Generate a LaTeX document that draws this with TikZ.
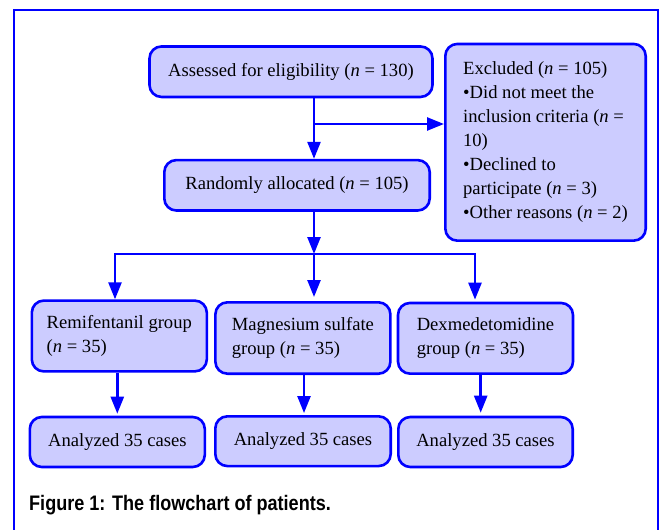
\documentclass[tikz,border=0pt]{standalone}
\usepackage{fontspec}
\setmainfont{Liberation Serif}
\newfontfamily\capfont[FakeStretch=0.86]{Liberation Sans}
\usetikzlibrary{arrows.meta}
\definecolor{bblue}{RGB}{0,0,255}
\definecolor{bfill}{RGB}{204,204,255}
\begin{document}
\begin{tikzpicture}[x=1pt,y=-1pt,
  box/.style={draw=bblue, fill=bfill, line width=2.6pt, rounded corners=12pt, align=left,
    font=\fontsize{18.6}{24}\selectfont, inner sep=0pt},
  conn/.style={draw=bblue, line width=2.5pt, -{Triangle[length=17pt,width=13pt]}},
  frame/.style={draw=bblue, line width=2pt}]
\clip (0,0) rectangle (659,530);
\useasboundingbox (0,0) rectangle (659,530);
\draw[frame] (14,10) rectangle (657.5,560);

\node[box, minimum width=283pt, minimum height=50.5pt] (assess) at (291,71.7)
  {Assessed for eligibility (\textit{n} = 130)};
\node[box, minimum width=200.4pt, minimum height=196.7pt] (excl) at (545.5,142.3)
  {Excluded (\textit{n} = 105)\\\textbullet Did not meet the\\inclusion criteria (\textit{n} =\\10)\\\textbullet Declined to\\participate (\textit{n} = 3)\\\textbullet Other reasons (\textit{n} = 2)};
\node[box, minimum width=265.4pt, minimum height=50.4pt] (rand) at (297,185.3)
  {Randomly allocated (\textit{n} = 105)};

\node[box, minimum width=175pt, minimum height=70.8pt] (g1) at (119.3,336)
  {Remifentanil group\\(\textit{n} = 35)};
\node[box, minimum width=175pt, minimum height=71.4pt] (g2) at (302.9,338)
  {Magnesium sulfate\\group (\textit{n} = 35)};
\node[box, minimum width=175pt, minimum height=70.7pt] (g3) at (485.5,338.3)
  {Dexmedetomidine\\group (\textit{n} = 35)};

\node[box, minimum width=175pt, minimum height=50pt] (a1) at (117.3,442) {Analyzed 35 cases};
\node[box, minimum width=175.4pt, minimum height=49.7pt] (a2) at (303,441.2) {Analyzed 35 cases};
\node[box, minimum width=174.4pt, minimum height=50pt] (a3) at (485.5,442) {Analyzed 35 cases};

\node[anchor=base west, inner sep=0pt, font=\capfont\bfseries\fontsize{21}{24}\selectfont] (cap)
  at (29,510.7) {Figure 1: The flowchart of patients.};

\coordinate (s1) at (314,0);
\coordinate (b1) at (314,124);
\coordinate (bar) at (314,254);
\coordinate (bl) at (115,254);
\coordinate (br) at (475,254);
\coordinate (d1) at (117.3,0);
\coordinate (d2) at (304,0);
\coordinate (d3) at (480.7,0);

\draw[conn] (assess.south -| s1) -- (rand.north -| s1);
\draw[conn] (b1) -- (b1 -| excl.west);
\draw[conn] (rand.south -| s1) -- (bar);
\draw[conn] (bar) -- (bl) -- (bl |- g1.north);
\draw[conn] (bar) -- (br) -- ([yshift=2pt]br |- g3.north);
\draw[conn] (bar) -- ([yshift=4pt]bar |- g2.north);
\draw[conn] (g1.south -| d1) -- ([yshift=2pt]a1.north -| d1);
\draw[conn] (g2.south -| d2) -- ([yshift=2pt]a2.north -| d2);
\draw[conn] (g3.south -| d3) -- ([yshift=3pt]a3.north -| d3);
\end{tikzpicture}
\end{document}
